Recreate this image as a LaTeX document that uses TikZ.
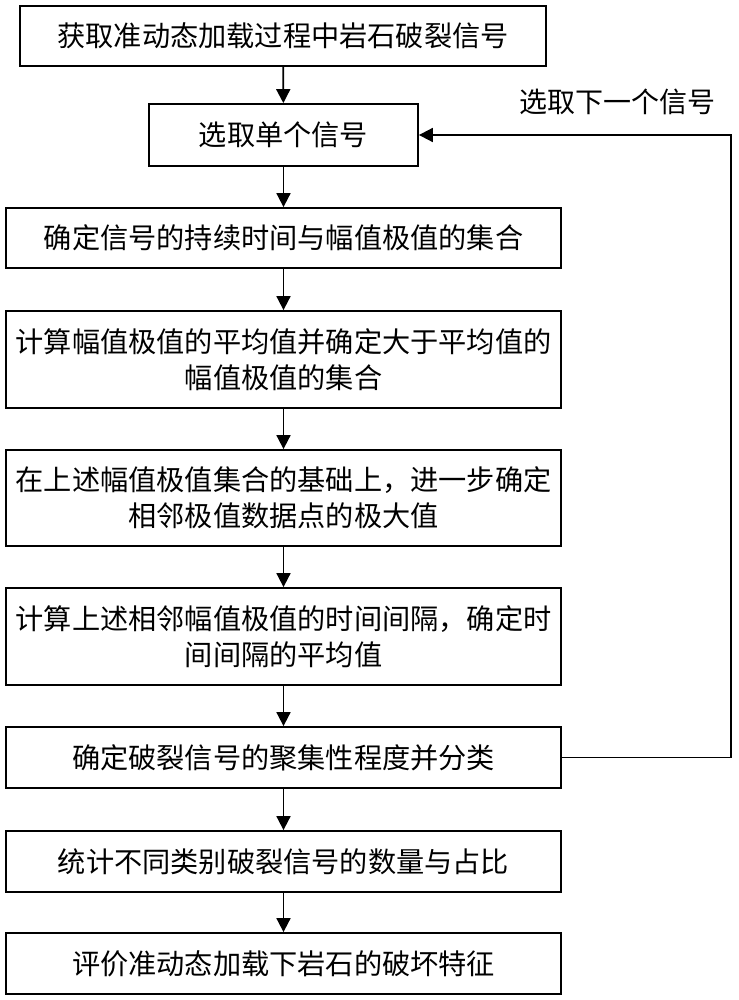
\documentclass[tikz,border=0pt]{standalone}
\usepackage{fontspec}
\newfontfamily\cjk{Noto Sans CJK SC}
\usetikzlibrary{arrows.meta}
\tikzset{
  box/.style={draw=black, line width=1.8pt, rectangle, inner sep=0pt, align=center,
    font=\cjk\fontsize{28.2}{36}\selectfont, text=black},
  arr/.style={line width=1.8pt, -{Triangle[length=14pt,width=14pt]}},
  lbl/.style={font=\cjk\fontsize{28}{36}\selectfont, inner sep=0pt}
}
\begin{document}
\begin{tikzpicture}[x=1pt,y=-1pt]
\useasboundingbox (0,0) rectangle (738,1000);
\fill[white] (0,0) rectangle (738,1000);
\node[box, minimum width=526pt, minimum height=60pt] (b1) at (283,36) {获取准动态加载过程中岩石破裂信号};
\node[box, minimum width=269pt, minimum height=62pt] (b2) at (283.5,135) {选取单个信号};
\node[box, minimum width=555pt, minimum height=60pt] (b3) at (283.5,238) {确定信号的持续时间与幅值极值的集合};
\node[box, minimum width=555pt, minimum height=97pt] (b4) at (283.5,359.5) {计算幅值极值的平均值并确定大于平均值的\\幅值极值的集合};
\node[box, minimum width=555pt, minimum height=96pt] (b5) at (283.5,498) {在上述幅值极值集合的基础上，进一步确定\\相邻极值数据点的极大值};
\node[box, minimum width=555pt, minimum height=97pt] (b6) at (283.5,636.5) {计算上述相邻幅值极值的时间间隔，确定时\\间间隔的平均值};
\node[box, minimum width=555pt, minimum height=61pt] (b7) at (283.5,757.5) {确定破裂信号的聚集性程度并分类};
\node[box, minimum width=555pt, minimum height=61pt] (b8) at (283.5,861.5) {统计不同类别破裂信号的数量与占比};
\node[box, minimum width=555pt, minimum height=61pt] (b9) at (283.5,963.5) {评价准动态加载下岩石的破坏特征};
\node[lbl] (lab) at (617,102) {选取下一个信号};
\coordinate (c1) at (731,757.5);
\coordinate (c2) at (731,135);
\draw[arr] (b1) -- (b2);
\draw[arr] (b2) -- (b3);
\draw[arr] (b3) -- (b4);
\draw[arr] (b4) -- (b5);
\draw[arr] (b5) -- (b6);
\draw[arr] (b6) -- (b7);
\draw[arr] (b7) -- (b8);
\draw[arr] (b8) -- (b9);
\draw[arr] (b7.east) -- (c1) -- (c2) -- (b2.east);
\end{tikzpicture}
\end{document}
